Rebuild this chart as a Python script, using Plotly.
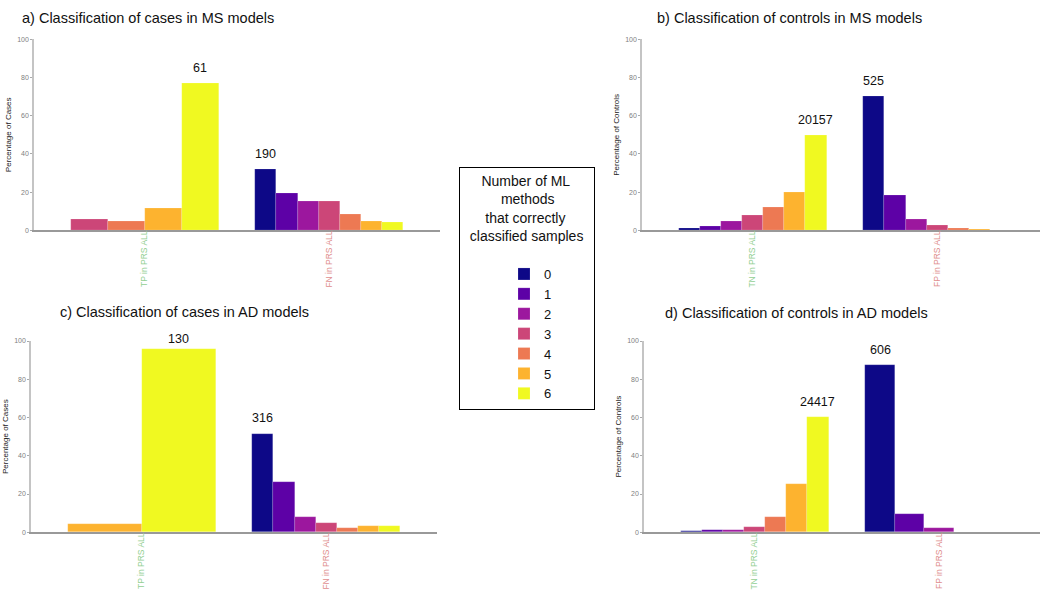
import plotly.graph_objects as go

FONT = "Liberation Sans, Arial, sans-serif"

# ---------------- data ----------------
CATEGORIES = [0, 1, 2, 3, 4, 5, 6]
COLORS = ["#0D0887", "#5D01A6", "#9C179E", "#CC4678", "#ED7953", "#FDB32F", "#F0F921"]

# panel a) cases, MS models
a_groups = ["TP in PRS ALL", "FN in PRS ALL"]
a_tp_cats = [3, 4, 5, 6]
a_tp_vals = [6.0, 4.8, 11.3, 77.1]
a_fn_cats = [0, 1, 2, 3, 4, 5, 6]
a_fn_vals = [32.1, 19.3, 15.3, 15.1, 8.4, 4.6, 4.0]
a_counts = [61, 190]

# panel b) controls, MS models
b_groups = ["TN in PRS ALL", "FP in PRS ALL"]
b_tn_cats = [0, 1, 2, 3, 4, 5, 6]
b_tn_vals = [1.2, 2.3, 4.9, 7.9, 12.0, 20.1, 49.8]
b_fp_cats = [0, 1, 2, 3, 4, 5, 6]
b_fp_vals = [70.3, 18.5, 5.8, 2.5, 1.0, 0.35, 0.15]
b_counts = [20157, 525]

# panel c) cases, AD models
c_groups = ["TP in PRS ALL", "FN in PRS ALL"]
c_tp_cats = [5, 6]
c_tp_vals = [4.4, 95.6]
c_fn_cats = [0, 1, 2, 3, 4, 5, 6]
c_fn_vals = [51.6, 26.1, 8.0, 5.1, 2.4, 3.3, 3.1]
c_counts = [130, 316]

# panel d) controls, AD models
d_groups = ["TN in PRS ALL", "FP in PRS ALL"]
d_tn_cats = [0, 1, 2, 3, 4, 5, 6]
d_tn_vals = [0.7, 1.1, 1.4, 2.6, 8.2, 25.4, 60.1]
d_fp_cats = [0, 1, 2, 3, 6]
d_fp_vals = [87.3, 9.6, 2.4, 0.35, 0.15]
d_counts = [24417, 606]

TITLES = ["a) Classification of cases in MS models",
          "b) Classification of controls in MS models",
          "c) Classification of cases in AD models",
          "d) Classification of controls in AD models"]
YTITLES = ["Percentage of Cases", "Percentage of Controls",
           "Percentage of Cases", "Percentage of Controls"]
GROUP_COLORS = ["#93cf93", "#e08e8e"]
NB = "&nbsp;"
LEGEND_TITLE = (NB * 5 + "Number of ML<br>"
                + NB * 10 + "methods<br>"
                + NB * 6 + "that correctly<br>"
                + NB * 2 + "classified samples" + NB * 2 + "<br>" + NB)

panels = [
    (a_groups, [(a_tp_cats, a_tp_vals), (a_fn_cats, a_fn_vals)], a_counts),
    (b_groups, [(b_tn_cats, b_tn_vals), (b_fp_cats, b_fp_vals)], b_counts),
    (c_groups, [(c_tp_cats, c_tp_vals), (c_fn_cats, c_fn_vals)], c_counts),
    (d_groups, [(d_tn_cats, d_tn_vals), (d_fp_cats, d_fp_vals)], d_counts),
]

# ---------------- layout geometry (pixels -> paper) ----------------
W, H = 1040, 590
def px(x):
    return x / W
def py(y):
    return 1 - y / H

UNIT = 184.5  # px per group unit
x_left = [34, 642, 31, 644]
x_right = [440, 1040, 437, 1040]
y_top = [39.3, 39.3, 341, 341]
y_bot = [230.3, 230.3, 532.3, 532.3]
title_pos = [(20, 18), (655, 18), (58, 312), (663, 313)]

GROUP_WIDTH = 0.8
LABEL_OFFSET = 8

fig = go.Figure()
annotations = []

for p, (groups, series, counts) in enumerate(panels):
    xa = "x" if p == 0 else f"x{p+1}"
    ya = "y" if p == 0 else f"y{p+1}"
    px_per_unit = (y_bot[p] - y_top[p]) / 100
    per_cat = {c: ([], [], []) for c in CATEGORIES}
    for g, (cats, vals) in enumerate(series):
        n = len(cats)
        w = GROUP_WIDTH / n
        for i, (c, v) in enumerate(zip(cats, vals)):
            xpos = (g + 1) - GROUP_WIDTH / 2 + w * (i + 0.5)
            per_cat[c][0].append(xpos)
            per_cat[c][1].append(v)
            per_cat[c][2].append(w)
        # count label above tallest bar
        imax = max(range(n), key=lambda k: vals[k])
        ylab = min(vals[imax] + LABEL_OFFSET, 100.9)
        yshift = 0
        if ylab > 100:
            yshift = (ylab - 100) * px_per_unit
            ylab = 100
        annotations.append(dict(
            x=(g + 1) - GROUP_WIDTH / 2 + w * (imax + 0.5),
            y=ylab, yshift=yshift,
            xref=xa, yref=ya, text=str(counts[g]), showarrow=False,
            xanchor="center", yanchor="middle",
            font=dict(size=12.5, color="#111111", family=FONT)))
    for c in CATEGORIES:
        xs, vs, ws = per_cat[c]
        if not xs:
            continue
        fig.add_trace(go.Bar(
            x=xs, y=vs, width=ws, xaxis=xa, yaxis=ya,
            name=str(c), legendgroup=str(c), showlegend=(p == 0),
            marker=dict(color=COLORS[c], line=dict(color="rgba(255,255,255,0.3)", width=0.5)),
            hovertemplate=f"{c}: %{{y:.1f}}%<extra></extra>"))

    suffix = "" if p == 0 else str(p + 1)
    xrange_max = 0.4 + (x_right[p] - x_left[p]) / UNIT
    fig.layout["xaxis" + suffix] = dict(
        domain=[px(x_left[p]), px(x_right[p])], range=[0.4, xrange_max],
        anchor=ya, tickvals=[1, 2],
        ticktext=[f"<span style='color:{GROUP_COLORS[i]}'>{groups[i]}</span>" for i in range(2)],
        tickangle=-90, tickfont=dict(size=8.5, family=FONT), ticklabelstandoff=-5,
        showline=True, linecolor="#999999", linewidth=1.5,
        showgrid=False, zeroline=False, ticks="", fixedrange=True, automargin=False)
    fig.layout["yaxis" + suffix] = dict(
        domain=[py(y_bot[p]), py(y_top[p])], range=[0, 100], anchor=xa,
        tickvals=[0, 20, 40, 60, 80, 100], ticks="outside", ticklen=2,
        tickcolor="#aaaaaa", tickwidth=1,
        tickfont=dict(size=7, color="#808080", family=FONT),
        showline=True, linecolor="#c4c4c4", linewidth=1.5,
        showgrid=False, zeroline=False,
        title=dict(text=YTITLES[p], font=dict(size=8, color="#222222", family=FONT), standoff=4),
        fixedrange=True, automargin=False)
    tx, ty = title_pos[p]
    annotations.append(dict(
        x=px(tx), y=py(ty), xref="paper", yref="paper", text=TITLES[p],
        showarrow=False, xanchor="left", yanchor="middle",
        font=dict(size=14.5, color="#111111", family=FONT)))

fig.update_layout(
    width=W, height=H, margin=dict(l=0, r=0, t=0, b=0, autoexpand=False),
    paper_bgcolor="white", plot_bgcolor="white",
    barmode="overlay", bargap=0,
    font=dict(family=FONT),
    annotations=annotations,
    legend=dict(
        x=px(459), y=py(167), xanchor="left", yanchor="top",
        bordercolor="black", borderwidth=1, bgcolor="white",
        font=dict(size=13, family=FONT, color="#111111"),
        title=dict(text=LEGEND_TITLE, side="top",
                   font=dict(size=14, family=FONT, color="#111111")),
        indentation=44, itemwidth=30, tracegroupgap=0, traceorder="normal"),
)

fig.write_html("out.html", config={"displayModeBar": False},
               post_script="document.body.style.margin='0';document.body.style.overflow='hidden';")
